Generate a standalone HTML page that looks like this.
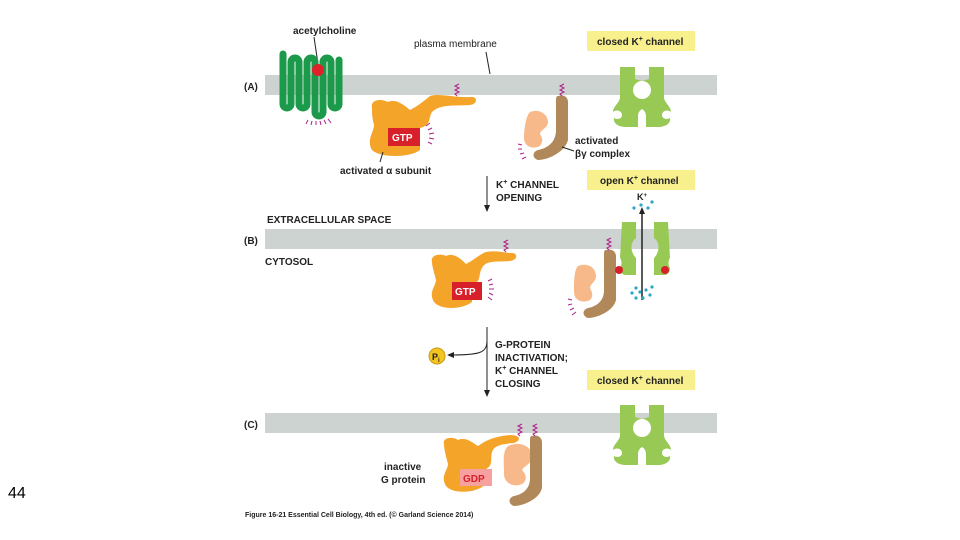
<!DOCTYPE html>
<html><head><meta charset="utf-8"><style>
html,body{margin:0;padding:0;background:#fff;}
svg{display:block;font-family:"Liberation Sans",sans-serif;}
.b{font-weight:bold;fill:#222;}
</style></head><body>
<svg width="960" height="540" viewBox="0 0 960 540">
<defs>
<path id="lh" d="M8 0 L23 0 L23 12 L30 14 L30 42 C27 44 26 46 26 50 L26 60 L14 60 C6 60 1 56 2 51 C5 53 10 52 10 48 C10 44 5 42 1 45 C1 39 8 36 8 30 Z" fill="#97c954"/>
<g id="cc">
<use href="#lh"/>
<use href="#lh" transform="translate(60,0) scale(-1,1)"/>
<circle cx="30" cy="23" r="9" fill="#fff"/>
</g>
</defs>
<!-- membranes -->
<rect x="265" y="75" width="452" height="20" fill="#cdd3d0"/>
<rect x="265" y="229" width="452" height="20" fill="#cdd3d0"/>
<rect x="265" y="413" width="452" height="20" fill="#cdd3d0"/>

<!-- labels -->
<text x="293" y="34" font-size="10" class="b">acetylcholine</text>
<line x1="314" y1="37" x2="318" y2="64" stroke="#222" stroke-width="1"/>
<text x="414" y="47" font-size="10" fill="#222">plasma membrane</text>
<line x1="486" y1="52" x2="490" y2="74" stroke="#222" stroke-width="1"/>
<text x="244" y="90" font-size="10" class="b">(A)</text>
<text x="244" y="244" font-size="10" class="b">(B)</text>
<text x="244" y="428" font-size="10" class="b">(C)</text>
<text x="267" y="223" font-size="10" class="b">EXTRACELLULAR SPACE</text>
<text x="265" y="265" font-size="10" class="b">CYTOSOL</text>

<!-- yellow boxes -->
<rect x="587" y="31" width="108" height="20" fill="#f8f08c"/>
<text x="597" y="45" font-size="10" class="b">closed K<tspan dy="-4" font-size="7">+</tspan><tspan dy="4"> channel</tspan></text>
<rect x="587" y="170" width="108" height="20" fill="#f8f08c"/>
<text x="600" y="184" font-size="10" class="b">open K<tspan dy="-4" font-size="7">+</tspan><tspan dy="4"> channel</tspan></text>
<rect x="587" y="370" width="108" height="20" fill="#f8f08c"/>
<text x="597" y="384" font-size="10" class="b">closed K<tspan dy="-4" font-size="7">+</tspan><tspan dy="4"> channel</tspan></text>

<!-- receptor -->
<path d="M283 54 L283 104 A4 4 0 0 0 291 104 L291 62 A4 4 0 0 1 299 62 L299 104 A4 4 0 0 0 307 104 L307 62 A4 4 0 0 1 315 62 L315 112 A4 4 0 0 0 323 112 L323 62 A4 4 0 0 1 331 62 L331 104 A4 4 0 0 0 339 104 L339 60" fill="none" stroke="#1a9a4a" stroke-width="7" stroke-linecap="round" stroke-linejoin="round"/>
<circle cx="318" cy="70" r="6" fill="#e0202a"/>
<g stroke="#b0208a" stroke-width="1"><line x1="308" y1="120" x2="306" y2="124"/><line x1="312" y1="121" x2="311" y2="125"/><line x1="316" y1="121" x2="316" y2="125"/><line x1="320" y1="121" x2="321" y2="125"/><line x1="324" y1="120" x2="326" y2="124"/><line x1="328" y1="119" x2="331" y2="123"/></g>

<!-- G alpha (A) -->
<path d="M372 108 C370 100 380 98 388 102 C396 98 405 106 410 110 C418 106 425 100 430 96 C440 93 455 98 470 97 C478 96 478 104 470 105 C455 106 440 104 432 112 C428 118 432 125 420 128 L420 150 C410 158 380 158 372 150 C366 140 374 132 374 125 C372 118 372 112 372 108 Z" fill="#f5a42a"/>
<rect x="388" y="128" width="32" height="18" fill="#d8202a"/>
<text x="392" y="141" font-size="10" font-weight="bold" fill="#fff">GTP</text>
<g stroke="#b0208a" stroke-width="1"><line x1="426" y1="126" x2="430" y2="123"/><line x1="428" y1="130" x2="432" y2="128"/><line x1="429" y1="134" x2="434" y2="133"/><line x1="429" y1="138" x2="434" y2="139"/><line x1="428" y1="142" x2="432" y2="144"/></g>
<path d="M457 96 l-2 -2 4 -2 -4 -2 4 -2 -4 -2 4 -2" fill="none" stroke="#b0208a" stroke-width="1"/>
<line x1="383" y1="152" x2="380" y2="162" stroke="#222"/>
<text x="340" y="174" font-size="10" class="b">activated α subunit</text>

<!-- beta gamma (A) -->
<path d="M530 112 C540 108 548 115 548 122 C548 128 540 130 540 134 C542 138 544 140 540 146 C532 150 524 146 524 138 C524 128 526 116 530 112 Z" fill="#f8b98a"/>
<path d="M558 96 C565 94 568 98 568 102 L568 140 C565 152 548 160 538 160 C532 158 532 152 538 150 C548 148 556 142 556 130 L556 102 C556 98 556 96 558 96 Z" fill="#b0885a"/>
<path d="M562 96 l-2 -2 4 -2 -4 -2 4 -2 -4 -2 4 -2" fill="none" stroke="#b0208a" stroke-width="1"/>
<g stroke="#b0208a" stroke-width="1"><line x1="522" y1="145" x2="518" y2="144"/><line x1="522" y1="149" x2="518" y2="149"/><line x1="524" y1="153" x2="520" y2="154"/><line x1="526" y1="157" x2="522" y2="159"/></g>
<text x="575" y="144" font-size="10" class="b">activated</text>
<text x="575" y="157" font-size="10" class="b">βγ complex</text>
<line x1="562" y1="147" x2="574" y2="151" stroke="#222"/>

<use href="#cc" x="612" y="67"/>
<use href="#cc" x="612" y="405"/>

<!-- arrow 1 -->
<line x1="487" y1="176" x2="487" y2="208" stroke="#222"/>
<path d="M484 205 L487 212 L490 205 Z" fill="#222"/>
<text x="496" y="188" font-size="10" class="b">K<tspan dy="-4" font-size="7">+</tspan><tspan dy="4"> CHANNEL</tspan></text>
<text x="496" y="201" font-size="10" class="b">OPENING</text>

<!-- B: alpha -->
<path d="M432 262 C430 255 440 253 446 256 C454 252 462 260 466 264 C474 260 480 254 486 252 C496 250 506 253 512 253 C518 253 518 260 510 261 C496 262 486 260 482 268 C478 274 482 282 472 285 L472 302 C462 310 440 310 434 302 C428 292 436 286 436 280 C434 272 432 266 432 262 Z" fill="#f5a42a"/>
<rect x="452" y="282" width="30" height="18" fill="#d8202a"/>
<text x="455" y="295" font-size="10" font-weight="bold" fill="#fff">GTP</text>
<path d="M506 252 l-2 -2 4 -2 -4 -2 4 -2 -4 -2 4 -2" fill="none" stroke="#b0208a" stroke-width="1"/>
<g stroke="#b0208a" stroke-width="1"><line x1="488" y1="281" x2="492" y2="279"/><line x1="489" y1="285" x2="493" y2="284"/><line x1="489" y1="289" x2="494" y2="289"/><line x1="489" y1="293" x2="493" y2="295"/><line x1="488" y1="297" x2="492" y2="300"/></g>

<!-- B: beta gamma -->
<path d="M578 266 C588 262 596 268 596 276 C596 282 590 284 590 288 C592 292 594 296 590 300 C582 304 574 300 574 292 C574 282 574 270 578 266 Z" fill="#f8b98a"/>
<path d="M606 250 C612 248 616 252 616 256 L616 300 C613 312 596 318 588 318 C582 316 582 310 588 308 C598 306 604 300 604 290 L604 256 C604 252 604 250 606 250 Z" fill="#b0885a"/>
<path d="M609 250 l-2 -2 4 -2 -4 -2 4 -2 -4 -2 4 -2" fill="none" stroke="#b0208a" stroke-width="1"/>
<g stroke="#b0208a" stroke-width="1"><line x1="572" y1="300" x2="568" y2="299"/><line x1="572" y1="304" x2="568" y2="305"/><line x1="574" y1="308" x2="570" y2="310"/><line x1="576" y1="312" x2="572" y2="315"/></g>

<!-- B: open channel -->
<path d="M622 222 L636 222 L636 238 C630 242 630 252 636 258 L636 275 L626 275 C622 275 620 272 620 268 C622 266 622 260 620 258 Z" fill="#97c954"/>
<path d="M668 222 L654 222 L654 238 C660 242 660 252 654 258 L654 275 L664 275 C668 275 670 272 670 268 C668 266 668 260 670 258 Z" fill="#97c954"/>
<circle cx="619" cy="270" r="4" fill="#d8202a"/>
<circle cx="665" cy="270" r="4" fill="#d8202a"/>
<line x1="642" y1="300" x2="642" y2="212" stroke="#222" stroke-width="1.5"/>
<path d="M639 214 L642 207 L645 214 Z" fill="#222"/>
<text x="637" y="200" font-size="9" class="b">K<tspan dy="-3" font-size="6">+</tspan></text>
<g fill="#2aa6c8"><circle cx="634" cy="208" r="1.6"/><circle cx="641" cy="205" r="1.6"/><circle cx="648" cy="208" r="1.6"/><circle cx="652" cy="202" r="1.6"/><circle cx="636" cy="288" r="1.6"/><circle cx="632" cy="293" r="1.6"/><circle cx="640" cy="292" r="1.6"/><circle cx="646" cy="290" r="1.6"/><circle cx="652" cy="287" r="1.6"/><circle cx="643" cy="298" r="1.6"/><circle cx="636" cy="298" r="1.6"/><circle cx="650" cy="295" r="1.6"/></g>

<!-- arrow 2 -->
<line x1="487" y1="327" x2="487" y2="392" stroke="#222"/>
<path d="M484 390 L487 397 L490 390 Z" fill="#222"/>
<path d="M487 340 C487 352 482 355 452 355" fill="none" stroke="#222"/>
<path d="M454 352 L447 355 L454 358 Z" fill="#222"/>
<circle cx="437" cy="356" r="8" fill="#f3c520" stroke="#c79a10"/>
<text x="432" y="360" font-size="9" class="b">P<tspan font-size="6" dy="2">i</tspan></text>
<text x="495" y="348" font-size="10" class="b">G-PROTEIN</text>
<text x="495" y="361" font-size="10" class="b">INACTIVATION;</text>
<text x="495" y="374" font-size="10" class="b">K<tspan dy="-4" font-size="7">+</tspan><tspan dy="4"> CHANNEL</tspan></text>
<text x="495" y="387" font-size="10" class="b">CLOSING</text>

<!-- C -->
<path d="M444 444 C442 438 452 436 458 440 C466 436 474 444 478 446 C486 440 496 436 510 435 C520 435 522 440 514 443 C500 444 494 446 492 452 C490 460 494 466 484 470 L486 484 C476 494 452 494 446 486 C440 476 448 470 448 464 C446 456 444 450 444 444 Z" fill="#f5a42a"/>
<path d="M508 446 C522 440 532 448 532 456 C532 464 524 466 522 470 C526 474 528 480 522 484 C512 488 504 482 504 474 C504 462 502 452 508 446 Z" fill="#f8b98a"/>
<path d="M532 436 C538 434 542 438 542 442 L542 488 C539 500 522 506 514 506 C508 504 508 498 514 496 C524 494 530 488 530 478 L530 442 C530 438 530 436 532 436 Z" fill="#b0885a"/>
<rect x="460" y="469" width="32" height="17" fill="#f6a0a0"/>
<text x="463" y="482" font-size="10" font-weight="bold" fill="#d8202a">GDP</text>
<path d="M520 436 l-2 -2 4 -2 -4 -2 4 -2 -4 -2 4 -2" fill="none" stroke="#b0208a" stroke-width="1"/>
<path d="M535 436 l-2 -2 4 -2 -4 -2 4 -2 -4 -2 4 -2" fill="none" stroke="#b0208a" stroke-width="1"/>
<text x="384" y="470" font-size="10" class="b">inactive</text>
<text x="381" y="483" font-size="10" class="b">G protein</text>

<text x="245" y="517" font-size="7" fill="#222" font-weight="bold">Figure 16-21  Essential Cell Biology, 4th ed. (© Garland Science 2014)</text>
<text x="8" y="498" font-size="16" fill="#000">44</text>
</svg>
</body></html>
